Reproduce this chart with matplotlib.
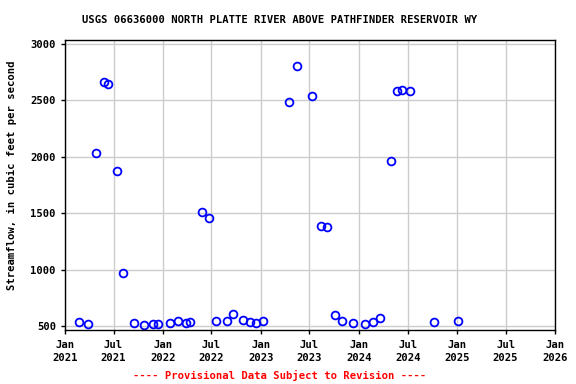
import matplotlib
matplotlib.use("Agg")
import matplotlib.pyplot as plt
import pandas as pd

dates = [
    "2021-02-24", "2021-03-29", "2021-04-26", "2021-05-25", "2021-06-12",
    "2021-07-14", "2021-08-05", "2021-09-15", "2021-10-22", "2021-11-25",
    "2021-12-12", "2022-01-26", "2022-02-25", "2022-03-27", "2022-04-12",
    "2022-05-25", "2022-06-22", "2022-07-16", "2022-08-26", "2022-09-18",
    "2022-10-25", "2022-11-20", "2022-12-14", "2023-01-09", "2023-04-14",
    "2023-05-14", "2023-07-09", "2023-08-14", "2023-09-04", "2023-10-03",
    "2023-11-01", "2023-12-09", "2024-01-24", "2024-02-22", "2024-03-19",
    "2024-04-29", "2024-05-24", "2024-06-09", "2024-07-09", "2024-10-06",
    "2025-01-05",
]
flow = [
    535, 518, 2034, 2666, 2645,
    1874, 970, 527, 512, 518,
    518, 527, 544, 527, 535,
    1511, 1457, 544, 544, 606,
    553, 535, 527, 544, 2486,
    2805, 2539, 1387, 1378, 598,
    544, 527, 518, 535, 571,
    1963, 2584, 2592, 2584, 535,
    544,
]

tick_dates = ["2021-01-01", "2021-07-01", "2022-01-01", "2022-07-01",
              "2023-01-01", "2023-07-01", "2024-01-01", "2024-07-01",
              "2025-01-01", "2025-07-01", "2026-01-01"]
tick_labels = ["Jan\n2021", "Jul\n2021", "Jan\n2022", "Jul\n2022",
               "Jan\n2023", "Jul\n2023", "Jan\n2024", "Jul\n2024",
               "Jan\n2025", "Jul\n2025", "Jan\n2026"]
yticks = [500, 1000, 1500, 2000, 2500, 3000]

title = "USGS 06636000 NORTH PLATTE RIVER ABOVE PATHFINDER RESERVOIR WY"
footer = "---- Provisional Data Subject to Revision ----"

plt.rcParams["font.family"] = ["DejaVu Sans Mono"]
plt.rcParams["font.weight"] = "bold"

fig = plt.figure(figsize=(5.76, 3.84), dpi=100)
ax = fig.add_axes([0.1128, 0.1406, 0.8507, 0.7552])

x = pd.to_datetime(dates)
ax.plot(x, flow, linestyle="none", marker="o", markersize=5.6,
        markerfacecolor="none", markeredgecolor="#0000ff", markeredgewidth=1.3)

ax.set_xlim(pd.Timestamp("2021-01-01"), pd.Timestamp("2026-01-01"))
ax.set_ylim(465, 3035)
ax.set_xticks(pd.to_datetime(tick_dates))
ax.set_xticklabels(tick_labels, linespacing=1.35)
ax.set_yticks(yticks)
ax.set_yticklabels([str(v) for v in yticks])

ax.grid(True, color="#cccccc", linewidth=1)
ax.set_axisbelow(True)
ax.tick_params(axis="both", labelsize=7.6, length=3, width=1, colors="black")
ax.tick_params(axis="x", pad=4)
for sp in ax.spines.values():
    sp.set_linewidth(1)

fig.text(12 / 576, 1 - 175 / 384, "Streamflow, in cubic feet per second",
         rotation=90, ha="center", va="center", fontsize=7.6, fontweight="bold")
fig.text(280 / 576, 1 - 20 / 384, title, ha="center", va="center",
         fontsize=7.6, fontweight="bold")
fig.text(280 / 576, 1 - 375 / 384, footer, ha="center", va="center",
         color="red", fontsize=7.6, fontweight="bold")

fig.savefig("out.png", dpi=100)
